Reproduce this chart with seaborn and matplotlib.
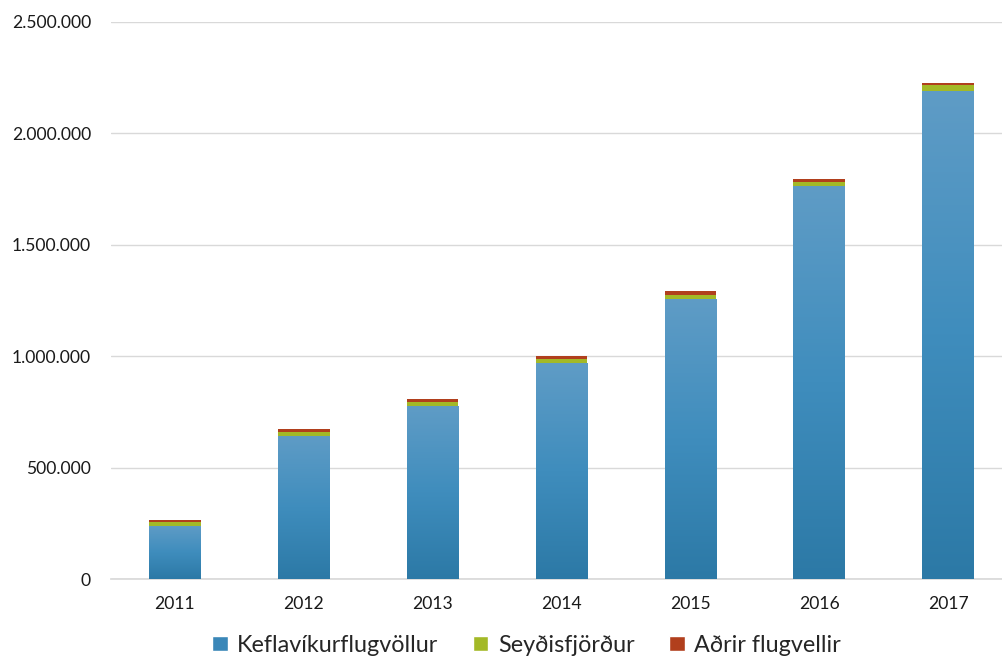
import numpy as np
import pandas as pd
import seaborn as sns
import matplotlib.pyplot as plt
from matplotlib.ticker import FuncFormatter, MultipleLocator
from matplotlib.patches import Patch

years = ['2011', '2012', '2013', '2014', '2015', '2016', '2017']
keflavik = [239000, 643000, 776000, 968000, 1257000, 1765000, 2191000]
seydisfjordur = [15000, 15000, 18000, 18000, 19000, 18000, 24000]
adrir = [13000, 15000, 13000, 13000, 15000, 12000, 13000]

labels = ['Keflavíkurflugvöllur', 'Seyðisfjörður', 'Aðrir flugvellir']
colors = ['#3a87b8', '#a3b927', '#b13f1d']

df = pd.DataFrame({'year': years, 'kef': keflavik, 'sey': seydisfjordur, 'adr': adrir})
df['kef_sey'] = df['kef'] + df['sey']
df['total'] = df['kef_sey'] + df['adr']

sns.set_theme(style='white')
plt.rcParams['font.family'] = ['Lato', 'DejaVu Sans']

fig = plt.figure(figsize=(10.02, 6.57), dpi=100)
ax = fig.add_axes([110.5 / 1002, 78 / 657, 902 / 1002, 557 / 657])

# stacked bars drawn back to front
sns.barplot(data=df, x='year', y='total', color=colors[2], saturation=1, width=0.4, ax=ax, zorder=2)
sns.barplot(data=df, x='year', y='kef_sey', color=colors[1], saturation=1, width=0.4, ax=ax, zorder=3)
sns.barplot(data=df, x='year', y='kef', color=colors[0], saturation=1, width=0.4, ax=ax, zorder=4)

for p in ax.patches:
    p.set_linewidth(0)

# gradient fill on the blue part
n_blue = len(years)
grad = np.linspace(0, 1, 256).reshape(-1, 1)
cmap = sns.blend_palette(['#2c79a6', '#3f8dbd', '#5f9cc6'], as_cmap=True)
for p in ax.patches[-n_blue:]:
    x0, y0 = p.get_x(), p.get_y()
    w, h = p.get_width(), p.get_height()
    im = ax.imshow(grad, cmap=cmap, aspect='auto', origin='lower',
                   extent=[x0, x0 + w, y0, y0 + h], zorder=5)
    im.set_clip_path(p)

ax.set_xlim(-0.5, 6.5)
ax.set_ylim(0, 2500000)
ax.yaxis.set_major_locator(MultipleLocator(500000))
ax.yaxis.set_major_formatter(FuncFormatter(lambda v, _: f'{int(v):,}'.replace(',', '.')))
ax.grid(axis='y', color='#d9d9d9', linewidth=1, zorder=0)
ax.set_axisbelow(True)
for s in ['top', 'right', 'left']:
    ax.spines[s].set_visible(False)
ax.spines['bottom'].set_color('#d9d9d9')
ax.set_xlabel('')
ax.set_ylabel('')
ax.tick_params(axis='both', length=0, labelsize=12.6, colors='#1a1a1a')
ax.tick_params(axis='y', pad=14)
ax.tick_params(axis='x', pad=12)

handles = [Patch(facecolor=c) for c in colors]
fig.legend(handles, labels, loc='center', bbox_to_anchor=(0.5255, 12 / 657), ncol=3,
           frameon=False, fontsize=16.8, handlelength=0.65, handleheight=0.65,
           handletextpad=0.4, columnspacing=1.5)

fig.savefig('out.png', dpi=100)
